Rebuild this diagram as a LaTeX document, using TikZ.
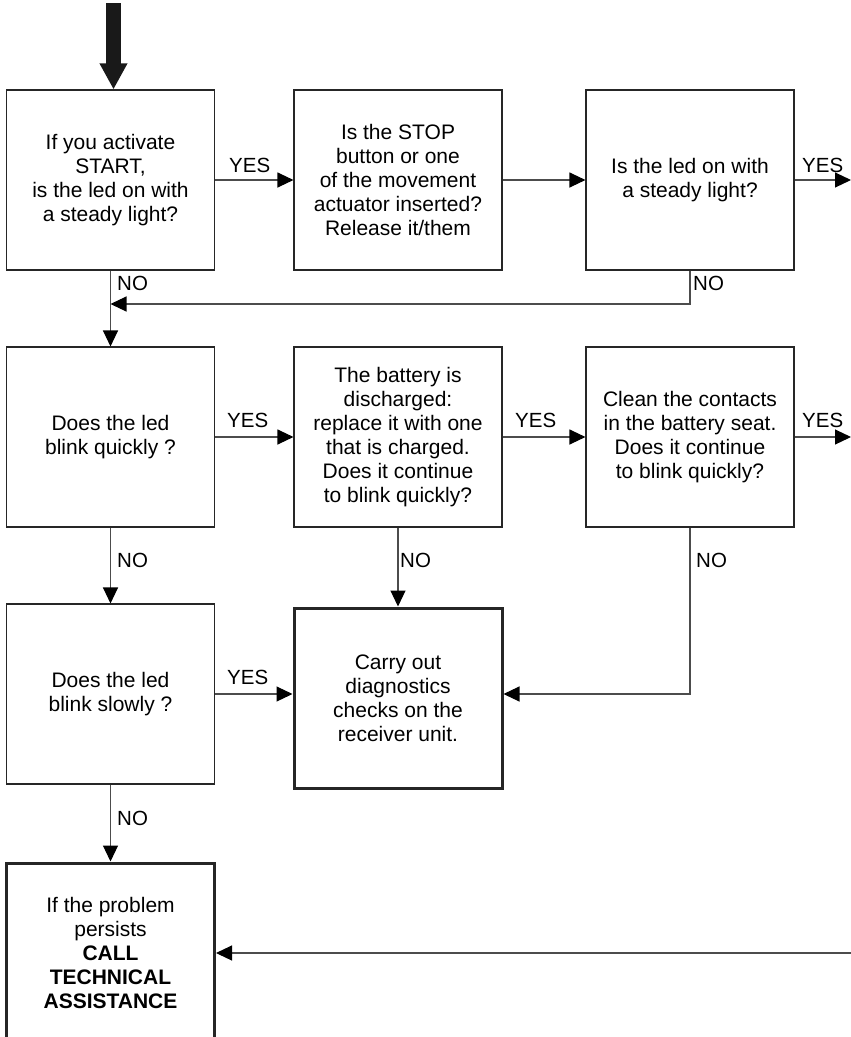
\documentclass[tikz,border=0pt]{standalone}
\usepackage{fontspec}
\setmainfont{Liberation Sans}
\usetikzlibrary{arrows.meta,calc}
\begin{document}
\begin{tikzpicture}[x=1pt,y=-1pt,
  box/.style={draw=black!85,line width=1.1pt,minimum width=208pt,minimum height=180pt,
    align=center,inner sep=2pt,font=\fontsize{21}{24}\selectfont},
  thickbox/.style={box,line width=3pt},
  conn/.style={draw=black!70,line width=1.1pt,-{Triangle[length=16pt,width=15pt,fill=black,color=black]}},
  lbl/.style={anchor=west,inner sep=0pt,font=\fontsize{20.5}{24}\selectfont}]
\useasboundingbox (0,0) rectangle (851,1037);
\clip (0,0) rectangle (851,1037);
\fill[white] (0,0) rectangle (851,1037);

% boxes
\node[box] (A) at (110.5,180) {If you activate\\START,\\is the led on with\\a steady light?};
\node[box] (B) at (398,180) {Is the STOP\\button or one\\of the movement\\actuator inserted?\\Release it/them};
\node[box] (C) at (690,180) {Is the led on with\\a steady light?};
\node[box] (D) at (110.5,437) {Does the led\\blink quickly ?};
\node[box] (E) at (398,437) {The battery is\\discharged:\\replace it with one\\that is charged.\\Does it continue\\to blink quickly?};
\node[box] (F) at (690,437) {Clean the contacts\\in the battery seat.\\Does it continue\\to blink quickly?};
\node[box] (G) at (110.5,694) {Does the led\\blink slowly ?};
\node[thickbox] (H) at (398,698) {Carry out\\diagnostics\\checks on the\\receiver unit.};
\node[thickbox] (I) at (110.5,953) {If the problem\\persists\\\textbf{CALL}\\\textbf{TECHNICAL}\\\textbf{ASSISTANCE}};

% free ends
\coordinate (start) at (113.5,3);
\coordinate (cy) at (851,180);
\coordinate (fy) at (851,437);
\coordinate (iy) at (851,953);
\coordinate (bend1) at (690,304);
\coordinate (bend2) at (690,694);

% big entry arrow
\draw[black!90,line width=15pt,-{Triangle[length=26pt,width=26pt]}] (start) -- (start |- A.north);

% row 1
\draw[conn] (A.east) -- (B.west);
\node[lbl] at (229,165) {YES};
\draw[conn] (B.east) -- (C.west);
\draw[conn] (C.east) -- (cy);
\node[lbl] at (802,165) {YES};
\draw[conn] (A.south) -- (D.north);
\node[lbl] at (117,283) {NO};
\draw[conn] (C.south) -- (bend1) -- (bend1 -| A.south);
\node[lbl] at (693,283) {NO};

% row 2
\draw[conn] (D.east) -- (E.west);
\node[lbl] at (227,420) {YES};
\draw[conn] (E.east) -- (F.west);
\node[lbl] at (515,420) {YES};
\draw[conn] (F.east) -- (fy);
\node[lbl] at (802,420) {YES};
\draw[conn] (D.south) -- (G.north);
\node[lbl] at (117,560) {NO};
\draw[conn] (E.south) -- (H.north);
\node[lbl] at (400,560) {NO};
\draw[conn] (F.south) -- (bend2) -- (bend2 -| H.east);
\node[lbl] at (696,560) {NO};

% row 3
\draw[conn] (G.east) -- (G.east -| H.west);
\node[lbl] at (227,677) {YES};
\draw[conn] (G.south) -- (I.north);
\node[lbl] at (117,818) {NO};
\draw[conn] (iy) -- (I.east);
\end{tikzpicture}
\end{document}
